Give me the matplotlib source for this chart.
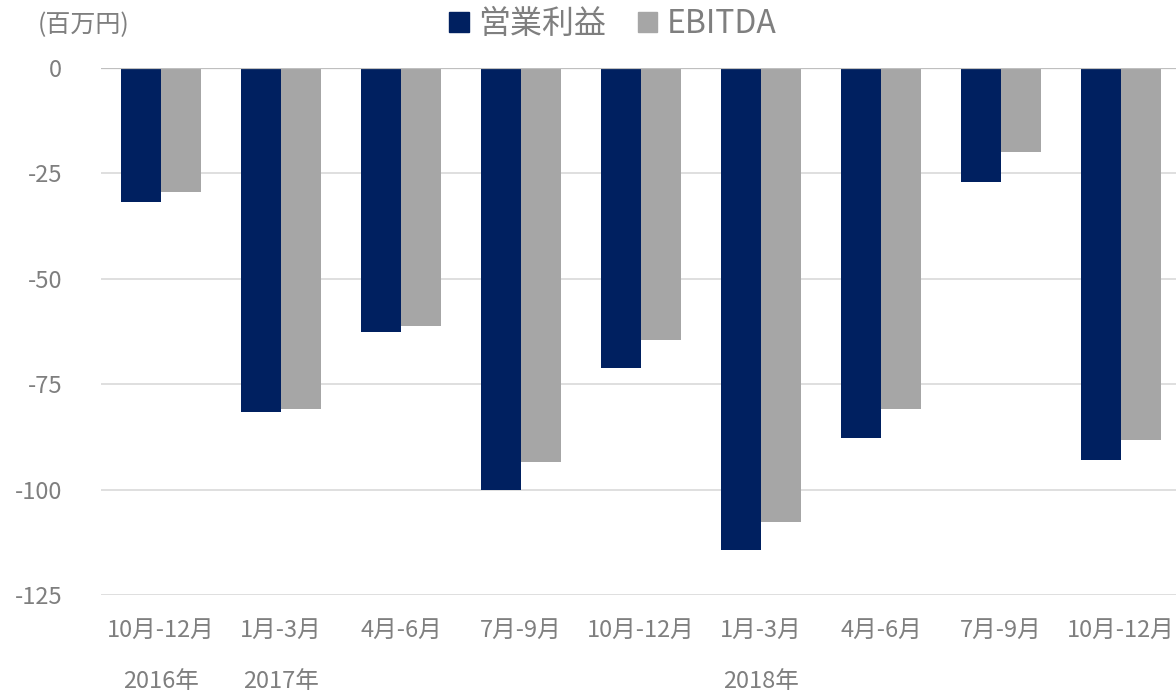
import numpy as np
import matplotlib
matplotlib.use('Agg')
import matplotlib.pyplot as plt
from matplotlib.patches import Patch
from matplotlib.transforms import blended_transform_factory

plt.rcParams['font.family'] = ['Noto Sans CJK JP', 'DejaVu Sans']

quarters = ['10月-12月', '1月-3月', '4月-6月', '7月-9月', '10月-12月',
            '1月-3月', '4月-6月', '7月-9月', '10月-12月']
op_income = [-31.8, -81.5, -62.6, -100.0, -71.1, -114.3, -87.7, -27.0, -92.9]
ebitda = [-29.4, -81.0, -61.1, -93.4, -64.5, -107.7, -81.0, -19.9, -88.2]
years = ['2016年', '2017年', '2018年']
year_pos = [0, 1, 5]
yticks = [0, -25, -50, -75, -100, -125]

navy = '#002060'
grey = '#a6a6a6'
txt = '#7f7f7f'

fig = plt.figure(figsize=(11.76, 6.93), dpi=100)
ax = fig.add_axes([101/1176, 98/693, 1080/1176, 527/693])

x = np.arange(len(quarters))
w = 1/3
ax.bar(x - w/2, op_income, w, color=navy, zorder=3)
ax.bar(x + w/2, ebitda, w, color=grey, zorder=3)

ax.set_xlim(-0.5, len(quarters) - 0.5)
ax.set_ylim(-125, 0)
ax.set_yticks(yticks)
ax.set_yticklabels([str(v) for v in yticks])
ax.yaxis.grid(True, color='#d9d9d9', lw=1.2, zorder=0)
ax.axhline(0, color='#bfbfbf', lw=1.6, zorder=4)
for s in ax.spines.values():
    s.set_visible(False)
ax.tick_params(axis='y', length=0, pad=28, labelsize=17, labelcolor=txt)
ax.set_xticks(x)
ax.set_xticklabels(quarters)
ax.tick_params(axis='x', length=0, pad=17, labelsize=17, labelcolor=txt)

tr = blended_transform_factory(ax.transData, fig.transFigure)
for yr, p in zip(years, year_pos):
    ax.text(p, 11/693, yr, transform=tr, ha='center', va='center',
            fontsize=17, color=txt)

fig.text(38/1176, 1 - 25/693, '(百万円)', ha='left', va='center',
         fontsize=18, color=txt)

handles = [Patch(color=navy, label='営業利益'), Patch(color=grey, label='EBITDA')]
fig.legend(handles=handles, loc='center', bbox_to_anchor=(613/1176, 1 - 24/693),
           ncol=2, frameon=False, fontsize=23, labelcolor=txt,
           handlelength=0.6, handleheight=0.6, handletextpad=0.3,
           columnspacing=1.0)

fig.savefig('out.png', dpi=100)
